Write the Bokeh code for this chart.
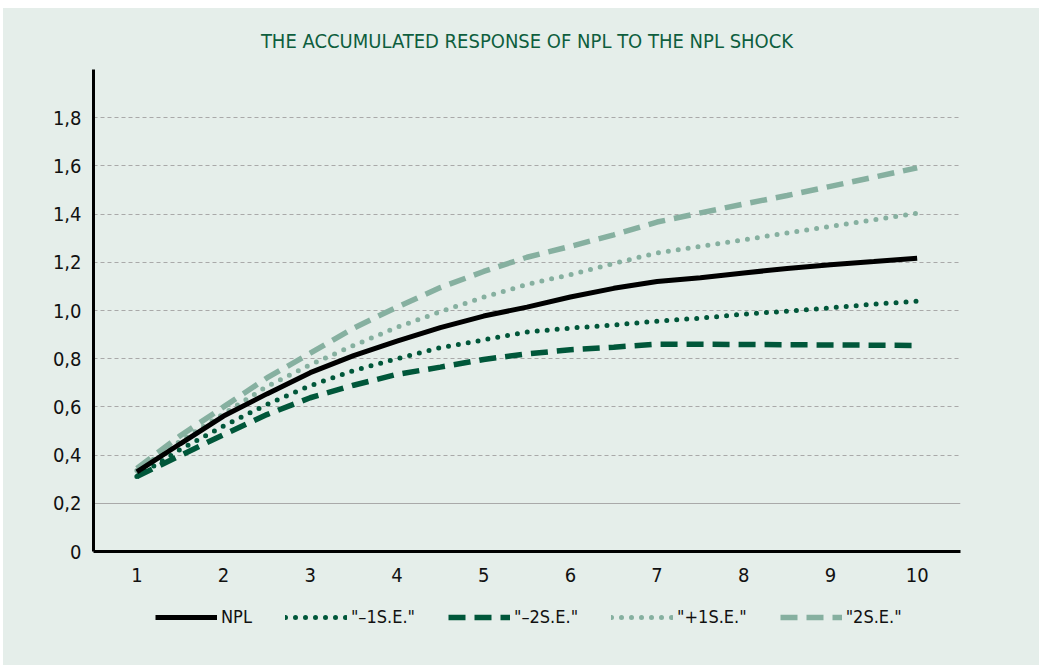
from bokeh.plotting import figure
from bokeh.models import Range1d, FixedTicker, Grid, Legend, LegendItem, CustomJSTickFormatter
from bokeh.layouts import column
from bokeh.embed import file_html
from bokeh.resources import INLINE

# horizon steps (read at every half period from the picture)
steps = [1, 1.5, 2, 2.5, 3, 3.5, 4, 4.5, 5, 5.5, 6, 6.5, 7, 7.5, 8, 8.5, 9, 9.5, 10]
npl = [0.33, 0.447, 0.562, 0.654, 0.742, 0.813, 0.873, 0.929, 0.977, 1.014, 1.056, 1.092,
       1.12, 1.136, 1.156, 1.174, 1.19, 1.203, 1.217]
minus1se = [0.311, 0.423, 0.521, 0.61, 0.688, 0.751, 0.80, 0.846, 0.878, 0.911, 0.927, 0.94,
            0.956, 0.968, 0.985, 0.997, 1.011, 1.026, 1.039]
minus2se = [0.311, 0.398, 0.485, 0.568, 0.638, 0.69, 0.735, 0.765, 0.797, 0.82, 0.837, 0.848,
            0.86, 0.86, 0.859, 0.858, 0.857, 0.856, 0.855]
plus1se = [0.336, 0.458, 0.571, 0.685, 0.775, 0.855, 0.93, 0.995, 1.055, 1.108, 1.149, 1.195,
           1.239, 1.266, 1.293, 1.322, 1.349, 1.376, 1.404]
plus2se = [0.345, 0.48, 0.60, 0.72, 0.823, 0.927, 1.014, 1.095, 1.162, 1.221, 1.266, 1.314,
           1.367, 1.405, 1.442, 1.477, 1.515, 1.553, 1.592]
x_ticks = [1, 2, 3, 4, 5, 6, 7, 8, 9, 10]
y_ticks = [0, 0.2, 0.4, 0.6, 0.8, 1.0, 1.2, 1.4, 1.6, 1.8]
labels = ["NPL", "\"\u20131S.E.\"", "\"\u20132S.E.\"", "\"+1S.E.\"", "\"2S.E.\""]
title_text = "THE ACCUMULATED RESPONSE OF NPL TO THE NPL SHOCK"

FONT = "'Liberation Sans Narrow', 'DejaVu Sans Condensed', sans-serif"
BG = "#E5EEEA"
DARK = "#00573A"
LIGHT = "#86B0A0"

styles = [
    dict(line_color="black", line_width=5),
    dict(line_color=DARK, line_width=5, line_dash="0 10", line_cap="round"),
    dict(line_color=DARK, line_width=5.5, line_dash="17 9"),
    dict(line_color=LIGHT, line_width=5, line_dash="0 10", line_cap="round"),
    dict(line_color=LIGHT, line_width=5.5, line_dash="17 9"),
]
series = [npl, minus1se, minus2se, plus1se, plus2se]

p = figure(width=1036, height=583, x_range=Range1d(0.5, 10.5), y_range=Range1d(0, 2.0),
           output_backend="svg", toolbar_location=None,
           min_border_left=90, min_border_right=79, min_border_top=61, min_border_bottom=40)
p.background_fill_color = BG
p.border_fill_color = BG
p.outline_line_color = None

p.title.text = title_text
p.title.align = "center"
p.title.text_font = FONT
p.title.text_font_size = "20px"
p.title.text_font_style = "normal"
p.title.text_color = "#0E5E3E"
p.title.standoff = 34

# axes
p.xaxis.ticker = FixedTicker(ticks=x_ticks)
p.yaxis.ticker = FixedTicker(ticks=y_ticks)
p.yaxis.formatter = CustomJSTickFormatter(code="return tick == 0 ? '0' : tick.toFixed(1).replace('.', ',')")
for ax in (p.xaxis[0], p.yaxis[0]):
    ax.axis_line_width = 3
    ax.axis_line_color = "black"
    ax.major_tick_line_color = None
    ax.minor_tick_line_color = None
    ax.major_label_text_font = FONT
    ax.major_label_text_font_size = "20px"
    ax.major_label_text_color = "#111111"
p.yaxis.major_label_standoff = 6
p.xaxis.major_label_standoff = 10

# grids
p.xgrid.grid_line_color = None
p.ygrid.ticker = FixedTicker(ticks=y_ticks[2:])
p.ygrid.grid_line_color = "#A9A9A9"
p.ygrid.grid_line_dash = "4 3"
p.ygrid.grid_line_width = 1
g2 = Grid(dimension=1, ticker=FixedTicker(ticks=[y_ticks[1]]), grid_line_color="#A9A9A9", grid_line_width=1)
p.add_layout(g2)

# draw order: light bands first, main line on top
for i in [4, 3, 2, 1, 0]:
    p.line(steps, series[i], **styles[i])

# legend strip (its sample lines sit outside its visible ranges)
q = figure(width=1036, height=74, x_range=Range1d(-2, -1), y_range=Range1d(-2, -1),
           output_backend="svg", toolbar_location=None,
           x_axis_location=None, y_axis_location=None,
           min_border_left=0, min_border_right=0, min_border_top=0, min_border_bottom=0)
q.background_fill_alpha = 0
q.border_fill_color = BG
q.outline_line_color = None
q.xgrid.grid_line_color = None
q.ygrid.grid_line_color = None

items = []
for i in range(5):
    r = q.line(steps, series[i], **styles[i])
    items.append(LegendItem(label=labels[i], renderers=[r]))

legend = Legend(items=items, orientation="horizontal", location=(62, 38))
legend.glyph_width = 62
legend.glyph_height = 20
legend.label_standoff = 4
legend.spacing = 33
legend.padding = 0
legend.margin = 0
legend.label_text_font = FONT
legend.label_text_font_size = "18px"
legend.label_text_color = "#111111"
legend.background_fill_alpha = 0
legend.border_line_color = None
q.add_layout(legend)

layout = column(p, q, spacing=0, margin=(8, 0, 0, 3))
layout.styles = {"background-color": BG}
open("out.html", "w").write(file_html(layout, INLINE))
